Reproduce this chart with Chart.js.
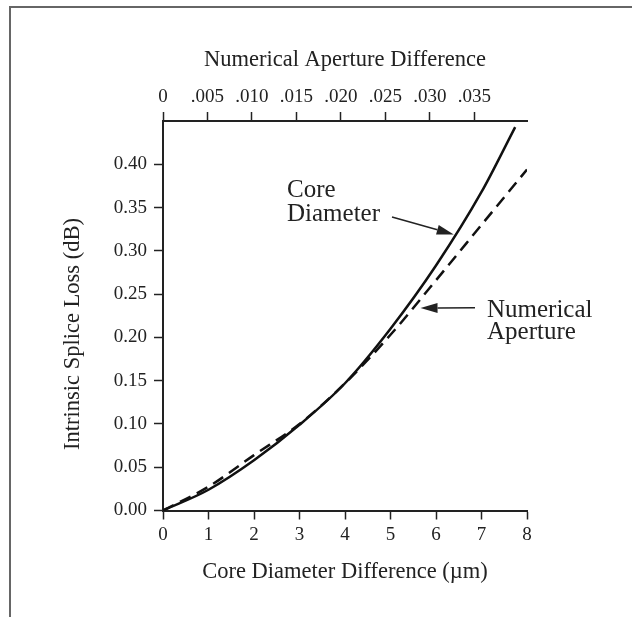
<!DOCTYPE html>
<html>
<head>
<meta charset="utf-8">
<script src="https://cdn.jsdelivr.net/npm/chart.js@4/dist/chart.umd.min.js"></script>
<style>
  html, body { margin: 0; padding: 0; background: #fff; }
  canvas { display: block; }
</style>
</head>
<body>
<canvas id="c" width="632" height="617"></canvas>
<script>
// ---- data ----
const coreX        = [0, 1, 2, 3, 4, 5, 6, 7, 7.74];
const coreLoss     = [0, 0.024, 0.058, 0.099, 0.147, 0.210, 0.283, 0.368, 0.443];
const naX          = [0, 1, 2, 3, 4, 5, 6, 7, 8];
const naLoss       = [0, 0.0275, 0.064, 0.100, 0.147, 0.203, 0.266, 0.330, 0.394];
const bottomTicks  = [0, 1, 2, 3, 4, 5, 6, 7, 8];
const topTickVals  = [0, 0.005, 0.010, 0.015, 0.020, 0.025, 0.030, 0.035];
const topTickLbls  = ['0', '.005', '.010', '.015', '.020', '.025', '.030', '.035'];
const yTickVals    = [0, 0.05, 0.10, 0.15, 0.20, 0.25, 0.30, 0.35, 0.40];

const FONT = "'Liberation Serif', 'DejaVu Serif', serif";
const INK = '#222';

function pts(xs, ys) { return xs.map((x, i) => ({ x: x, y: ys[i] })); }

const decor = {
  id: 'decor',
  afterDraw(chart) {
    const ctx = chart.ctx;
    const sx = chart.scales.x, sy = chart.scales.y;
    ctx.save();
    // page frame (top and left rules)
    ctx.strokeStyle = '#666';
    ctx.lineWidth = 2;
    ctx.beginPath();
    ctx.moveTo(632, 7); ctx.lineTo(10, 7); ctx.lineTo(10, 617);
    ctx.stroke();

    // y axis title
    ctx.fillStyle = INK;
    ctx.font = "22.5px " + FONT;
    ctx.textAlign = 'center';
    ctx.textBaseline = 'middle';
    ctx.save();
    ctx.translate(73, 334);
    ctx.rotate(-Math.PI / 2);
    ctx.fillText('Intrinsic Splice Loss (dB)', 0, 0);
    ctx.restore();

    // annotations
    ctx.font = "25px " + FONT;
    ctx.textAlign = 'left';
    ctx.textBaseline = 'alphabetic';
    ctx.fillText('Core', 287, 197);
    ctx.fillText('Diameter', 287, 221);
    ctx.fillText('Numerical', 487, 317);
    ctx.fillText('Aperture', 487, 339);

    function arrow(x1, y1, x2, y2) {
      const a = Math.atan2(y2 - y1, x2 - x1);
      const L = 17, W = 5;
      const bx = x2 - L * Math.cos(a), by = y2 - L * Math.sin(a);
      ctx.strokeStyle = INK;
      ctx.lineWidth = 1.5;
      ctx.beginPath();
      ctx.moveTo(x1, y1); ctx.lineTo(bx, by);
      ctx.stroke();
      ctx.fillStyle = INK;
      ctx.beginPath();
      ctx.moveTo(x2, y2);
      ctx.lineTo(bx + W * Math.sin(a), by - W * Math.cos(a));
      ctx.lineTo(bx - W * Math.sin(a), by + W * Math.cos(a));
      ctx.closePath();
      ctx.fill();
    }
    // arrow tips anchored in data space
    arrow(392, 217, sx.getPixelForValue(6.39), sy.getPixelForValue(0.319));
    arrow(475, 307.7, sx.getPixelForValue(5.66), sy.getPixelForValue(0.234));
    ctx.restore();
  }
};

new Chart(document.getElementById('c'), {
  type: 'line',
  data: {
    datasets: [
      {
        label: 'Core Diameter',
        data: pts(coreX, coreLoss),
        borderColor: '#111',
        borderWidth: 2.5,
        pointRadius: 0,
        cubicInterpolationMode: 'monotone',
        fill: false,
        xAxisID: 'x', yAxisID: 'y'
      },
      {
        label: 'Numerical Aperture',
        data: pts(naX, naLoss),
        borderColor: '#111',
        borderWidth: 2.5,
        borderDash: [12, 7],
        pointRadius: 0,
        cubicInterpolationMode: 'monotone',
        fill: false,
        xAxisID: 'x', yAxisID: 'y'
      }
    ]
  },
  options: {
    responsive: false,
    animation: false,
    events: [],
    layout: { padding: { left: 0, right: 105, top: 0, bottom: 0 } },
    plugins: { legend: { display: false }, tooltip: { enabled: false }, title: { display: false } },
    scales: {
      x: {
        type: 'linear',
        position: 'bottom',
        min: 0, max: 8,
        afterBuildTicks: s => { s.ticks = bottomTicks.map(v => ({ value: v })); },
        afterFit: s => { s.height = 106.5; },
        ticks: {
          font: { family: FONT, size: 19 }, color: INK, padding: 4,
          maxRotation: 0, autoSkip: false,
          callback: v => String(v)
        },
        grid: { drawOnChartArea: false, drawTicks: true, tickLength: 9, tickWidth: 1.5, tickColor: INK },
        border: { display: true, color: INK, width: 2 },
        title: {
          display: true, text: 'Core Diameter Difference (\u00b5m)',
          font: { family: FONT, size: 22.5 }, color: INK,
          padding: { top: 0, bottom: 31 }
        }
      },
      x2: {
        type: 'linear',
        position: 'top',
        min: 0, max: 0.0409,
        afterBuildTicks: s => { s.ticks = topTickVals.map(v => ({ value: v })); },
        afterFit: s => { s.height = 121; },
        ticks: {
          font: { family: FONT, size: 19 }, color: INK, padding: 4,
          maxRotation: 0, autoSkip: false,
          callback: (v, i) => topTickLbls[i]
        },
        grid: { drawOnChartArea: false, drawTicks: true, tickLength: 9, tickWidth: 1.5, tickColor: INK },
        border: { display: true, color: INK, width: 2 },
        title: {
          display: true, text: 'Numerical Aperture Difference',
          font: { family: FONT, size: 22.5 }, color: INK,
          padding: { top: 47, bottom: 0 }
        }
      },
      y: {
        type: 'linear',
        position: 'left',
        min: 0, max: 0.45,
        afterBuildTicks: s => { s.ticks = yTickVals.map(v => ({ value: v })); },
        afterFit: s => { s.width = 163; },
        ticks: {
          font: { family: FONT, size: 19 }, color: INK, padding: 7,
          autoSkip: false,
          callback: v => Number(v).toFixed(2)
        },
        grid: { drawOnChartArea: false, drawTicks: true, tickLength: 9, tickWidth: 1.5, tickColor: INK },
        border: { display: true, color: INK, width: 2 }
      }
    }
  },
  plugins: [decor]
});
</script>
</body>
</html>
